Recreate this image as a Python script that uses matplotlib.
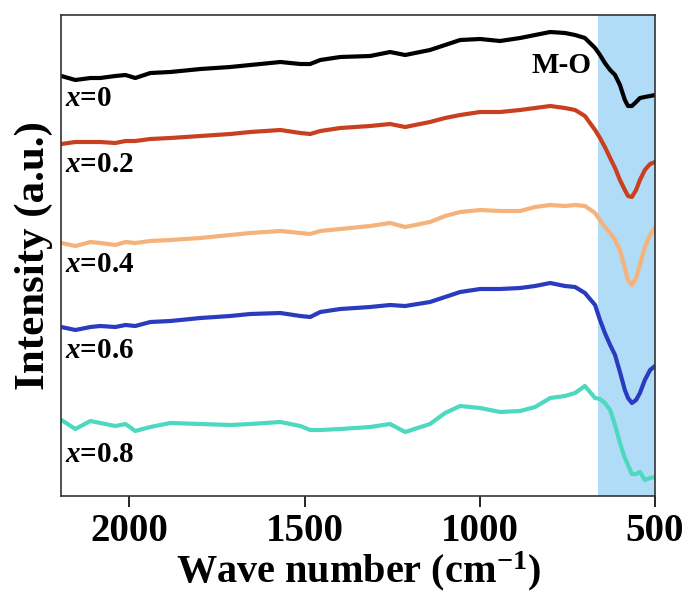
import matplotlib
matplotlib.use('Agg')

import matplotlib.pyplot as plt

plt.rcParams['font.family'] = 'Liberation Serif'
plt.rcParams['font.weight'] = 'bold'
plt.rcParams['mathtext.fontset'] = 'custom'
plt.rcParams['mathtext.rm'] = 'Liberation Serif:bold'
plt.rcParams['mathtext.it'] = 'Liberation Serif:italic:bold'

# Wavenumber grid (cm^-1), shared by all spectra
wavenumber = [2194, 2154, 2111, 2083, 2040, 2011, 1983, 1940, 1883, 1797,
              1712, 1655, 1569, 1512, 1484, 1455, 1398, 1313, 1256, 1213,
              1142, 1099, 1056, 999, 942, 885, 842, 799, 757, 728,
              700, 671, 657, 643, 628, 614, 600, 586, 577, 566,
              554, 543, 529, 514, 500]

# Stacked FTIR spectra (already offset), intensity in a.u.
spec_x0 = [4.24, 4.20, 4.22, 4.22, 4.24, 4.25, 4.22, 4.27, 4.28, 4.31,
           4.33, 4.35, 4.38, 4.36, 4.36, 4.40, 4.43, 4.44, 4.48, 4.45,
           4.50, 4.55, 4.60, 4.61, 4.59, 4.62, 4.65, 4.68, 4.67, 4.65,
           4.62, 4.52, 4.45, 4.37, 4.30, 4.25, 4.15, 4.00, 3.94, 3.94,
           3.98, 4.02, 4.03, 4.04, 4.05]
spec_x02 = [3.56, 3.58, 3.58, 3.58, 3.57, 3.59, 3.59, 3.61, 3.62, 3.64,
            3.66, 3.68, 3.70, 3.67, 3.66, 3.69, 3.72, 3.74, 3.76, 3.73,
            3.78, 3.82, 3.85, 3.88, 3.88, 3.90, 3.92, 3.94, 3.92, 3.90,
            3.84, 3.70, 3.62, 3.53, 3.42, 3.32, 3.20, 3.10, 3.04, 3.03,
            3.10, 3.20, 3.30, 3.36, 3.38]
spec_x04 = [2.57, 2.54, 2.58, 2.57, 2.55, 2.58, 2.57, 2.59, 2.60, 2.62,
            2.65, 2.67, 2.69, 2.67, 2.66, 2.69, 2.71, 2.74, 2.77, 2.73,
            2.78, 2.84, 2.88, 2.90, 2.89, 2.89, 2.93, 2.95, 2.94, 2.95,
            2.94, 2.87, 2.80, 2.73, 2.67, 2.60, 2.50, 2.32, 2.20, 2.15,
            2.22, 2.35, 2.53, 2.65, 2.73]
spec_x06 = [1.73, 1.70, 1.73, 1.74, 1.73, 1.75, 1.74, 1.78, 1.79, 1.82,
            1.84, 1.86, 1.87, 1.84, 1.83, 1.88, 1.91, 1.93, 1.95, 1.94,
            1.98, 2.03, 2.08, 2.11, 2.11, 2.12, 2.14, 2.17, 2.14, 2.13,
            2.07, 1.95, 1.80, 1.67, 1.55, 1.45, 1.28, 1.10, 1.02, 0.97,
            1.00, 1.07, 1.20, 1.30, 1.34]
spec_x08 = [0.80, 0.71, 0.79, 0.77, 0.74, 0.76, 0.69, 0.73, 0.77, 0.76,
            0.75, 0.76, 0.78, 0.74, 0.70, 0.70, 0.71, 0.73, 0.76, 0.68,
            0.76, 0.87, 0.94, 0.92, 0.88, 0.89, 0.93, 1.02, 1.04, 1.07,
            1.14, 1.02, 1.01, 0.97, 0.90, 0.75, 0.57, 0.42, 0.35, 0.26,
            0.26, 0.28, 0.20, 0.22, 0.23]

series = [spec_x0, spec_x02, spec_x04, spec_x06, spec_x08]
labels = ['$x$=0', '$x$=0.2', '$x$=0.4', '$x$=0.6', '$x$=0.8']
label_y = [4.02, 3.35, 2.35, 1.50, 0.45]
colors = ['#000000', '#c8401f', '#f5b27a', '#2b3bbf', '#4dd8c0']

fig = plt.figure(figsize=(6.91, 5.95), dpi=100)
ax = fig.add_axes([61 / 691, 1 - 496 / 595, 594 / 691, 481 / 595])

# M-O band region
ax.axvspan(662, 500, color='#b0dcf8', lw=0, zorder=0)

for y, c, lab, ly in zip(series, colors, labels, label_y):
    ax.plot(wavenumber, y, color=c, lw=3.0, solid_capstyle='round',
            solid_joinstyle='round', zorder=2)
    ax.text(2185, ly, lab, fontsize=21, fontweight='bold', ha='left', va='center')

ax.text(680, 4.35, 'M-O', fontsize=21, fontweight='bold', ha='right', va='center')

ax.set_xlim(2195, 500)
ax.set_ylim(0.04, 4.85)
ax.set_xticks([2000, 1500, 1000, 500])
ax.tick_params(axis='x', direction='out', length=8, width=1.2, labelsize=28, pad=4)
ax.set_yticks([])
for side in ax.spines.values():
    side.set_linewidth(1.2)
    side.set_color('#333333')

ax.set_xlabel('Wave number (cm$^{\\mathrm{-1}}$)', fontsize=29, fontweight='bold', labelpad=0)
ax.set_ylabel('Intensity (a.u.)', fontsize=31, fontweight='bold', labelpad=6)

plt.savefig('out.png', dpi=100)
plt.close()
